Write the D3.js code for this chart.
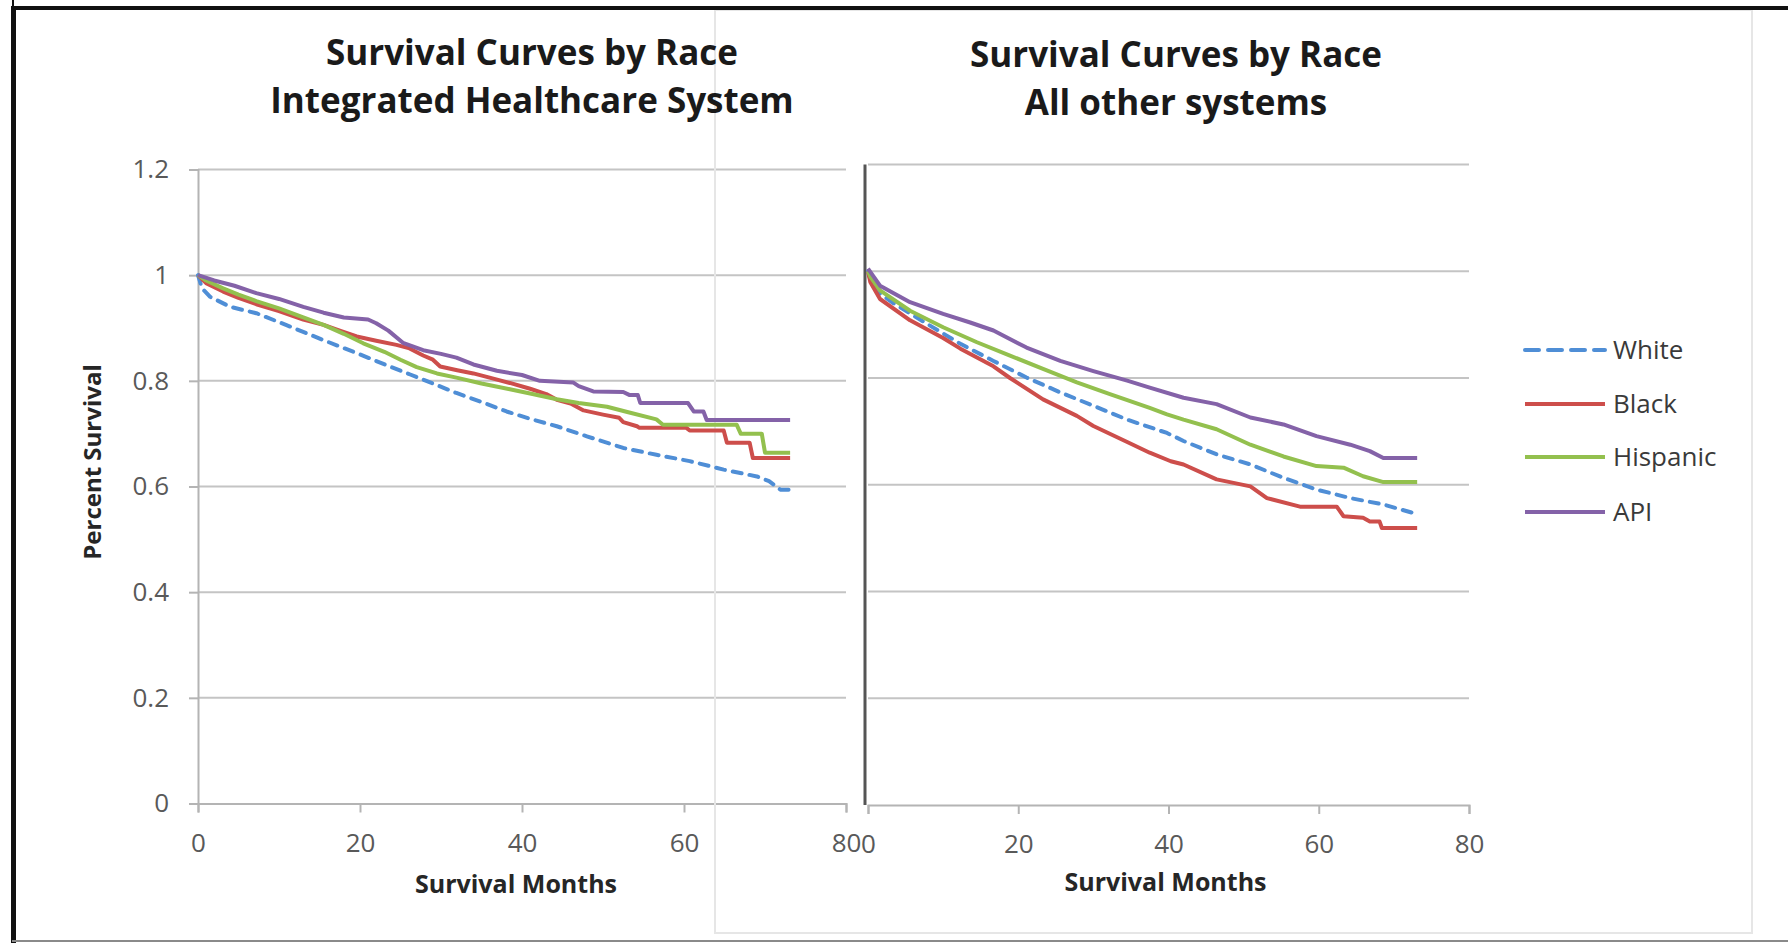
<!DOCTYPE html>
<html>
<head>
<meta charset="utf-8">
<script src="https://cdn.jsdelivr.net/npm/d3@7"></script>
<style>
  body { margin: 0; background: #fff; }
  svg { display: block; font-family: "Open Sans", sans-serif; }
</style>
</head>
<body>
<script>
// axis ticks
var xTicks = [0, 20, 40, 60, 80];
var yTicks = [0, 0.2, 0.4, 0.6, 0.8, 1, 1.2];
var yTickLabels = ["0", "0.2", "0.4", "0.6", "0.8", "1", "1.2"];

var races = ["White", "Black", "Hispanic", "API"];
var raceColors = ["#4f8ed6", "#cd4e4b", "#93c04e", "#8462a8"];

// Integrated Healthcare System  [month, survival]
var ihsWhite = [[0,1],[0.5,0.975],[1.5,0.959],[4,0.94],[7.2,0.928],[11,0.905],[15.5,0.877],[20,0.85],
  [23.7,0.827],[26.2,0.812],[29,0.795],[31.9,0.777],[35,0.76],[38.1,0.742],[41,0.728],[44.3,0.714],
  [48,0.695],[52.5,0.673],[56.6,0.66],[60.7,0.648],[64.9,0.632],[69,0.619],[70.5,0.61],[71.9,0.594],[73.1,0.594]];
var ihsBlack = [[0,1],[1,0.985],[3.1,0.969],[5,0.957],[7.2,0.945],[10,0.932],[13,0.916],[15.5,0.906],
  [17.5,0.895],[19.6,0.884],[22,0.876],[24.5,0.868],[26,0.862],[27.8,0.848],[29,0.84],[29.9,0.827],
  [32,0.82],[34,0.814],[36,0.806],[38.5,0.796],[41,0.785],[43,0.775],[44.3,0.764],[46,0.757],
  [47.6,0.744],[50,0.736],[52,0.73],[52.5,0.722],[54.2,0.714],[54.5,0.711],[60.3,0.711],[60.7,0.706],
  [64.9,0.706],[65.3,0.683],[68.1,0.683],[68.5,0.654],[73.1,0.654]];
var ihsHispanic = [[0,1],[1,0.99],[3.1,0.975],[5,0.963],[7.2,0.951],[10,0.937],[13,0.92],[15.5,0.906],
  [18,0.889],[20.4,0.871],[23,0.855],[25,0.84],[27,0.826],[29.5,0.814],[31.9,0.806],[35,0.795],
  [38.5,0.784],[41,0.776],[44.3,0.765],[47,0.758],[50.5,0.751],[53,0.741],[56.6,0.727],[57.4,0.717],
  [66.5,0.717],[67,0.7],[69.6,0.7],[70,0.664],[73.1,0.664]];
var ihsApi = [[0,1],[2,0.99],[4.5,0.98],[7.2,0.966],[10,0.955],[13,0.94],[15.5,0.929],[18,0.92],
  [21,0.916],[22,0.909],[23.5,0.895],[25.3,0.872],[27.8,0.858],[30,0.851],[31.9,0.844],[34,0.831],
  [36.9,0.819],[40,0.811],[42.2,0.8],[46.3,0.797],[47,0.79],[48.8,0.78],[52.5,0.779],[53.3,0.773],
  [54.3,0.773],[54.6,0.758],[60.5,0.758],[61.2,0.742],[62.4,0.742],[62.8,0.726],[73.1,0.726]];

// All other systems  [month, survival]
var othWhite = [[0,1],[0.5,0.975],[1.6,0.958],[3.4,0.94],[7.8,0.902],[12.3,0.864],[16.7,0.832],
  [21.1,0.801],[25.6,0.773],[30,0.748],[34.5,0.722],[39.8,0.697],[42,0.682],[46.4,0.657],[50.9,0.638],
  [55.3,0.613],[59.7,0.591],[64.2,0.575],[68.6,0.563],[72.6,0.547]];
var othBlack = [[0,1],[0.3,0.98],[1.6,0.948],[5.6,0.908],[10,0.875],[12.3,0.855],[16.7,0.822],
  [18.9,0.8],[23.3,0.76],[27.8,0.729],[30,0.71],[34.5,0.68],[37.5,0.66],[40.3,0.644],[42,0.638],
  [46.4,0.61],[50.9,0.597],[53.1,0.575],[57.5,0.559],[62.4,0.559],[63.3,0.541],[65.9,0.538],
  [66.8,0.531],[68.1,0.531],[68.4,0.519],[73.1,0.519]];
var othHispanic = [[0,1],[0.3,0.99],[1.6,0.964],[5.6,0.926],[10,0.895],[14.5,0.867],[18.9,0.842],
  [23.3,0.817],[27.8,0.792],[32.2,0.77],[37.5,0.744],[39.8,0.732],[42,0.722],[46.4,0.704],[50.9,0.675],
  [55.3,0.653],[59.7,0.635],[63.3,0.632],[65.9,0.616],[68.6,0.605],[73.1,0.605]];
var othApi = [[0,1.005],[1.6,0.973],[5.6,0.942],[10,0.92],[13.6,0.904],[16.7,0.889],[21.1,0.857],
  [25.6,0.832],[30,0.813],[34.5,0.795],[37.5,0.782],[42,0.763],[46.4,0.751],[50.9,0.726],[55.3,0.713],
  [59.7,0.691],[64.2,0.675],[66.8,0.663],[68.6,0.65],[73.1,0.65]];

var svg = d3.select("body").append("svg")
    .attr("width", 1788)
    .attr("height", 943);

var gridLayer = svg.append("g");
var overLayer = svg.append("g");
var curveLayer = svg.append("g");

function panel(series, xRange, yRange, withYLabels) {
  var x = d3.scaleLinear().domain([0, 80]).range(xRange);
  var y = d3.scaleLinear().domain([0, 1.2]).range(yRange);

  // gridlines
  gridLayer.append("g").selectAll("line")
    .data(yTicks.slice(1))
    .enter().append("line")
      .attr("x1", x(0)).attr("x2", x(80))
      .attr("y1", function(d) { return y(d); })
      .attr("y2", function(d) { return y(d); })
      .attr("stroke", "#c4c4c4")
      .attr("stroke-width", 2);

  // x axis
  var xa = gridLayer.append("g")
      .attr("transform", "translate(0," + y(0) + ")")
      .call(d3.axisBottom(x).tickValues(xTicks).tickSize(9).tickPadding(21));
  xa.select(".domain").attr("stroke", "#b4b4b4").attr("stroke-width", 2);
  xa.selectAll(".tick line").attr("stroke", "#b4b4b4").attr("stroke-width", 2);
  xa.selectAll(".tick text").attr("font-size", 26).attr("fill", "#595959")
      .attr("font-family", "Open Sans");

  if (withYLabels) {
    var ya = gridLayer.append("g")
        .attr("transform", "translate(" + x(0) + ",0)")
        .call(d3.axisLeft(y).tickValues(yTicks).tickSize(9).tickPadding(20)
          .tickFormat(function(d, i) { return yTickLabels[i]; }));
    ya.select(".domain").attr("stroke", "#b4b4b4").attr("stroke-width", 2);
    ya.selectAll(".tick line").attr("stroke", "#b4b4b4").attr("stroke-width", 2);
    ya.selectAll(".tick text").attr("font-size", 26).attr("fill", "#595959")
        .attr("font-family", "Open Sans");
  } else {
    gridLayer.append("line")
      .attr("x1", x(0) - 3).attr("x2", x(0) - 3)
      .attr("y1", y(1.2)).attr("y2", y(0))
      .attr("stroke", "#555")
      .attr("stroke-width", 3);
  }

  var line = d3.line()
      .x(function(d) { return x(d[0]); })
      .y(function(d) { return y(d[1]); });

  series.forEach(function(s, i) {
    curveLayer.append("path")
      .attr("d", line(s))
      .attr("fill", "none")
      .attr("stroke", raceColors[i])
      .attr("stroke-width", 4)
      .attr("stroke-linejoin", "round")
      .attr("stroke-linecap", i == 0 ? "round" : "butt")
      .attr("stroke-dasharray", i == 0 ? "9,8" : null);
  });
  return x;
}

var xl = panel([ihsWhite, ihsBlack, ihsHispanic, ihsApi], [198, 846], [803.5, 169.5], true);
var xr = panel([othWhite, othBlack, othHispanic, othApi], [868, 1469], [805, 164.5], false);

// faint frame of the pasted second picture
overLayer.append("rect")
  .attr("x", 715).attr("y", 10)
  .attr("width", 1037).attr("height", 923)
  .attr("fill", "none")
  .attr("stroke", "#e6e6e6")
  .attr("stroke-width", 2);

// outer frame
svg.append("rect").attr("x", 12).attr("y", 6).attr("width", 1776).attr("height", 4).attr("fill", "#111");
svg.append("rect").attr("x", 11).attr("y", 6).attr("width", 5).attr("height", 937).attr("fill", "#111");
svg.append("rect").attr("x", 12).attr("y", 0).attr("width", 2).attr("height", 6).attr("fill", "#111");
svg.append("line").attr("x1", 12).attr("x2", 1788).attr("y1", 941).attr("y2", 941)
  .attr("stroke", "#8a8a8a").attr("stroke-width", 2);

// titles
function title(lines, cx, y0) {
  lines.forEach(function(t, i) {
    svg.append("text")
      .attr("x", cx).attr("y", y0 + i * 48)
      .attr("text-anchor", "middle")
      .attr("font-size", 35)
      .attr("font-weight", "bold")
      .attr("fill", "#1a1a1a")
      .text(t);
  });
}
title(["Survival Curves by Race", "Integrated Healthcare System"], 532, 65);
title(["Survival Curves by Race", "All other systems"], 1176, 67);

// axis titles
svg.append("text").attr("x", (xl(0) + xl(80)) / 2 - 6).attr("y", 893)
  .attr("text-anchor", "middle").attr("font-size", 25).attr("font-weight", "bold")
  .attr("fill", "#262626").text("Survival Months");
svg.append("text").attr("x", (xr(0) + xr(80)) / 2 - 3).attr("y", 891)
  .attr("text-anchor", "middle").attr("font-size", 25).attr("font-weight", "bold")
  .attr("fill", "#262626").text("Survival Months");
svg.append("text")
  .attr("transform", "translate(101,462) rotate(-90)")
  .attr("text-anchor", "middle").attr("font-size", 24).attr("font-weight", "bold")
  .attr("fill", "#262626").text("Percent Survival");

// legend
var legendY = [350, 404, 457, 512];
var lg = svg.append("g").selectAll("g")
  .data(races)
  .enter().append("g")
    .attr("transform", function(d, i) { return "translate(1523," + legendY[i] + ")"; });
lg.append("line")
  .attr("x1", 2).attr("x2", 82)
  .attr("stroke", function(d, i) { return raceColors[i]; })
  .attr("stroke-width", 4)
  .attr("stroke-linecap", function(d, i) { return i == 0 ? "round" : "butt"; })
  .attr("stroke-dasharray", function(d, i) { return i == 0 ? "14,9" : null; });
lg.append("text")
  .attr("x", 90).attr("dy", "0.35em")
  .attr("font-size", 26)
  .attr("fill", "#3a3a3a")
  .text(function(d) { return d; });
</script>
</body>
</html>
